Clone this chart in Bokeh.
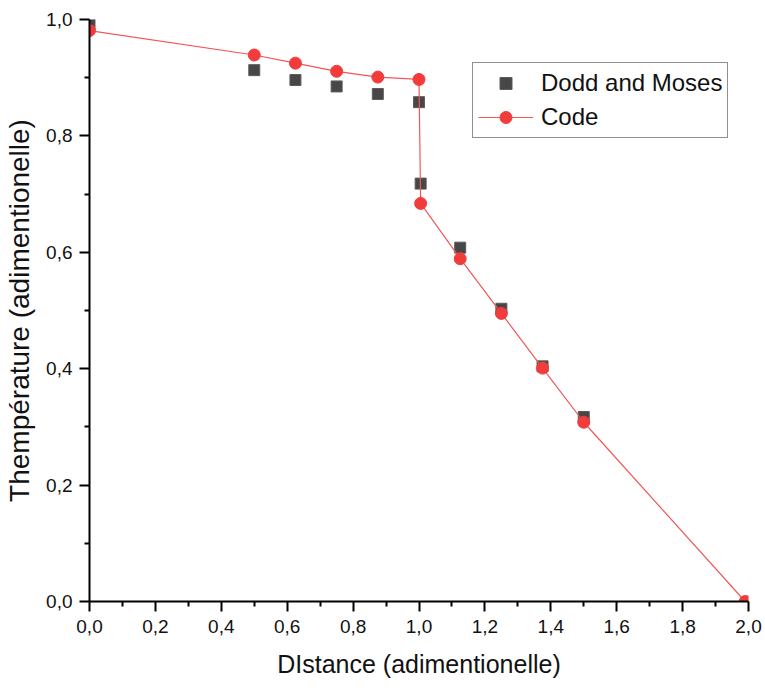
from bokeh.plotting import figure
from bokeh.models import Range1d, FixedTicker, Legend
from bokeh.embed import file_html
from bokeh.resources import INLINE

# Data
dodd_x = [0.0, 0.5, 0.625, 0.75, 0.875, 1.0, 1.005, 1.125, 1.25, 1.375, 1.5]
dodd_y = [0.992, 0.913, 0.896, 0.885, 0.872, 0.858, 0.718, 0.608, 0.503, 0.404, 0.317]

code_x = [0.0, 0.5, 0.625, 0.75, 0.875, 1.0, 1.005, 1.125, 1.25, 1.375, 1.5, 1.99]
code_y = [0.981, 0.939, 0.925, 0.911, 0.901, 0.897, 0.684, 0.589, 0.495, 0.401, 0.308, 0.0]

x_ticks = [0.0, 0.2, 0.4, 0.6, 0.8, 1.0, 1.2, 1.4, 1.6, 1.8, 2.0]
x_tick_labels = ["0,0", "0,2", "0,4", "0,6", "0,8", "1,0", "1,2", "1,4", "1,6", "1,8", "2,0"]
x_minor = [0.1, 0.3, 0.5, 0.7, 0.9, 1.1, 1.3, 1.5, 1.7, 1.9]
y_ticks = [0.0, 0.2, 0.4, 0.6, 0.8, 1.0]
y_tick_labels = ["0,0", "0,2", "0,4", "0,6", "0,8", "1,0"]
y_minor = [0.1, 0.3, 0.5, 0.7, 0.9]

FONT = "Liberation Sans"
RED = "#f23c3c"
GRAY = "#474747"

p = figure(width=765, height=690, output_backend="svg", toolbar_location=None,
           x_range=Range1d(0, 2), y_range=Range1d(0, 1),
           min_border_left=89, min_border_right=17, min_border_top=19, min_border_bottom=89)
p.outline_line_color = None
p.xgrid.visible = False
p.ygrid.visible = False
p.background_fill_color = "white"
p.border_fill_color = "white"

sq = p.scatter(dodd_x, dodd_y, marker="square", size=11, fill_color=GRAY,
               line_color="#5c5c5c", line_width=1)
ln = p.line(code_x, code_y, line_color="#f25656", line_width=1.2)
ci = p.scatter(code_x, code_y, marker="circle", size=12, fill_color=RED, line_color=RED)

for ax, ticks, labels, minor in ((p.xaxis[0], x_ticks, x_tick_labels, x_minor),
                                 (p.yaxis[0], y_ticks, y_tick_labels, y_minor)):
    ax.ticker = FixedTicker(ticks=ticks, minor_ticks=minor)
    ax.major_label_overrides = dict(zip(ticks, labels))
    ax.axis_line_width = 2
    ax.axis_line_color = "black"
    ax.major_tick_line_width = 2
    ax.minor_tick_line_width = 2
    ax.major_tick_line_color = "black"
    ax.minor_tick_line_color = "black"
    ax.major_tick_in = 0
    ax.major_tick_out = 10
    ax.minor_tick_in = 0
    ax.minor_tick_out = 5
    ax.major_label_text_font = FONT
    ax.major_label_text_font_size = "19px"
    ax.major_label_text_color = "#111111"
    ax.axis_label_text_font = FONT
    ax.axis_label_text_font_style = "normal"
    ax.axis_label_text_color = "#111111"

p.xaxis.axis_label = "DIstance (adimentionelle)"
p.xaxis.axis_label_text_font_size = "25px"
p.xaxis.major_label_standoff = 8
p.xaxis.axis_label_standoff = 14
p.yaxis.axis_label = "Thempérature (adimentionelle)"
p.yaxis.axis_label_text_font_size = "28px"
p.yaxis.major_label_standoff = 7
p.yaxis.axis_label_standoff = 8

legend = Legend(items=[("Dodd and Moses", [sq]), ("Code", [ln, ci])],
                location=(383, 463))
legend.label_text_font = FONT
legend.label_text_font_size = "24px"
legend.label_text_color = "#111111"
legend.border_line_color = "#222222"
legend.border_line_width = 1
legend.background_fill_alpha = 1
legend.padding = 5
legend.spacing = 4
legend.margin = 0
legend.glyph_width = 55
legend.glyph_height = 30
legend.label_height = 30
legend.label_standoff = 8
p.add_layout(legend, "center")

open("out.html", "w").write(file_html(p, INLINE))
